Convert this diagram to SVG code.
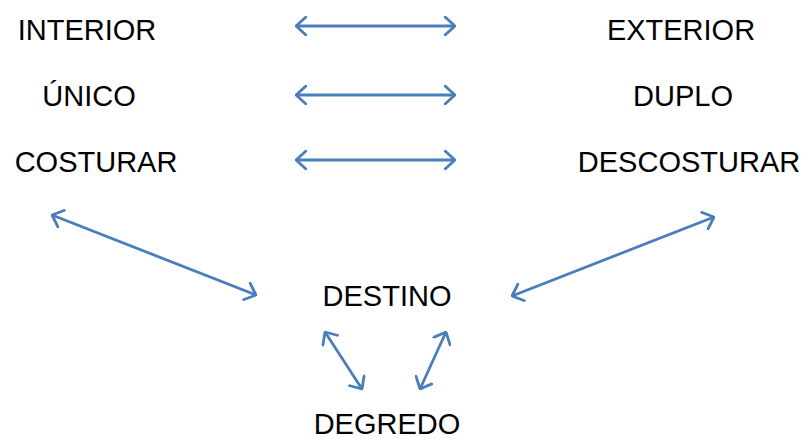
<svg xmlns="http://www.w3.org/2000/svg" width="804" height="439" viewBox="0 0 804 439">
<defs>
<style>
.t{font-family:"Liberation Sans",Arial,sans-serif;font-size:29px;fill:#000;text-anchor:middle}
.c{stroke:#4a7ebb;stroke-width:2.8;fill:none;marker-start:url(#a);marker-end:url(#a)}
</style>
<marker id="a" viewBox="0 0 12 20" refX="11" refY="10" markerWidth="12" markerHeight="20" markerUnits="userSpaceOnUse" orient="auto-start-reverse">
<path d="M1 1 L11 10 L1 19" fill="none" stroke="#4a7ebb" stroke-width="2.8" stroke-linecap="round" stroke-linejoin="round"/>
</marker>
</defs>
<rect width="804" height="439" fill="#fff"/>
<g id="connectors">
<line class="c" x1="296" y1="26" x2="455" y2="26"/>
<line class="c" x1="296" y1="95" x2="455" y2="95"/>
<line class="c" x1="296" y1="160" x2="455" y2="160"/>
<line class="c" x1="52" y1="215" x2="256" y2="295"/>
<line class="c" x1="714" y1="217" x2="512" y2="296"/>
<line class="c" x1="325" y1="332" x2="362" y2="389"/>
<line class="c" x1="446" y1="332" x2="420" y2="389"/>
</g>
<g id="interior"><text class="t" x="87" y="40">INTERIOR</text></g>
<g id="exterior"><text class="t" x="681" y="40">EXTERIOR</text></g>
<g id="unico"><text class="t" x="89" y="106">ÚNICO</text></g>
<g id="duplo"><text class="t" x="683" y="106">DUPLO</text></g>
<g id="costurar"><text class="t" x="96" y="172">COSTURAR</text></g>
<g id="descosturar"><text class="t" x="689" y="172">DESCOSTURAR</text></g>
<g id="destino"><text class="t" x="387" y="306">DESTINO</text></g>
<g id="degredo"><text class="t" x="387" y="434">DEGREDO</text></g>
</svg>
